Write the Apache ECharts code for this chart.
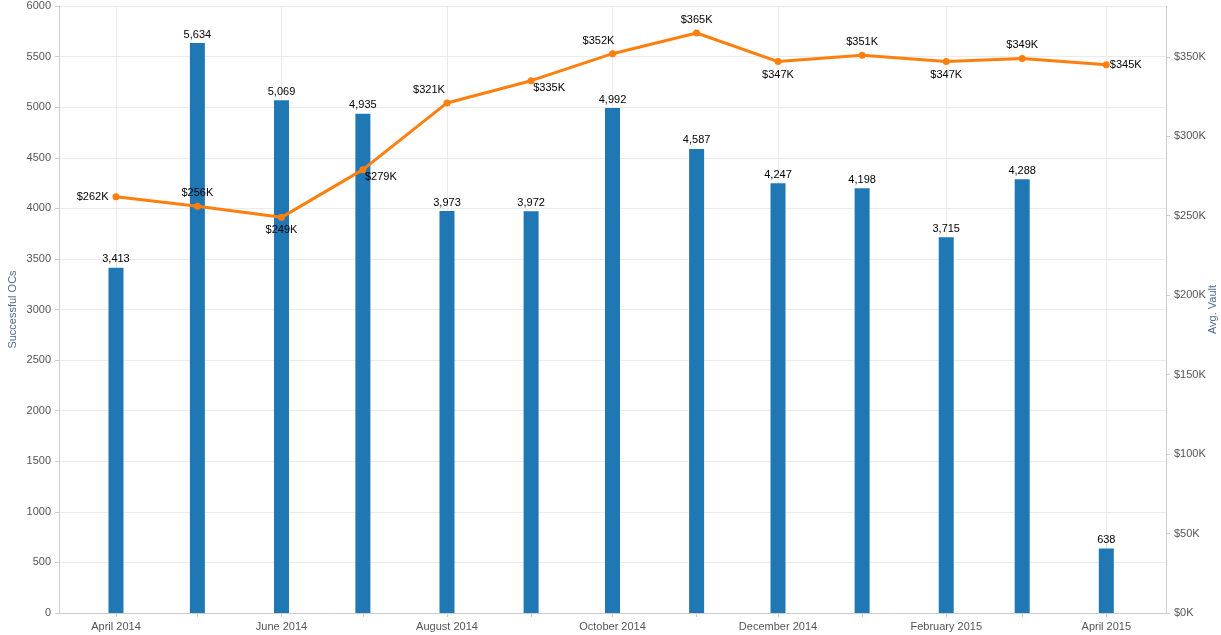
<!DOCTYPE html>
<html>
<head>
<meta charset="utf-8">
<script src="https://cdn.jsdelivr.net/npm/echarts@6/dist/echarts.min.js"></script>
<style>
  html, body { margin: 0; padding: 0; background: #fff; }
  #chart { width: 1221px; height: 635px; }
</style>
</head>
<body>
<div id="chart"></div>
<script>
// months shown, from April 2014 to April 2015 (year, month index)
var months = [
  [2014, 3], [2014, 4], [2014, 5], [2014, 6], [2014, 7], [2014, 8], [2014, 9],
  [2014, 10], [2014, 11], [2015, 0], [2015, 1], [2015, 2], [2015, 3]
];
var successfulOCs = [3413, 5634, 5069, 4935, 3973, 3972, 4992, 4587, 4247, 4198, 3715, 4288, 638];
// average vault, in thousands of dollars
var avgVault = [262, 256, 249, 279, 321, 335, 352, 365, 347, 351, 347, 349, 345];
var leftTicks = [0, 6000, 500];
var rightTicks = [0, 382, 50];
var monthNames = ['January', 'February', 'March', 'April', 'May', 'June', 'July',
  'August', 'September', 'October', 'November', 'December'];

var myChart = echarts.init(document.getElementById('chart'));

var DAY = 86400000;
var times = months.map(function(m) { return Date.UTC(m[0], m[1], 1); });
var labelTimes = times.filter(function(t, i) { return i % 2 === 0; });
var xMin = times[0] - 21 * DAY;
var xMax = times[times.length - 1] + 22 * DAY;

// where each line label sits, like the tableau layout
var linePos = ['left', 'top', 'bottom', 'bottom', 'top', 'bottom', 'top', 'top', 'bottom', 'top', 'bottom', 'top', 'right'];
var lineOffset = [[0, 0], [0, 0], [0, 0], [18, -6], [-18, 0], [18, -6], [-14, 0], [0, 0], [0, 0], [0, 0], [0, 0], [0, 0], [-4, 0]];

var font = 'Arial, "Liberation Sans", sans-serif';

option = {
  animation: false,
  grid: { left: 59, right: 55, top: 6, bottom: 22, outerBoundsMode: 'none', containLabel: false },
  xAxis: [
    {
      type: 'value',
      min: xMin, max: xMax,
      axisLine: { lineStyle: { color: '#ccc' } },
      axisTick: { show: true, length: 4, customValues: times, lineStyle: { color: '#ccc' } },
      axisLabel: {
        customValues: labelTimes,
        color: '#555', fontSize: 11, fontFamily: font,
        margin: 8,
        formatter: function(v) {
          var d = new Date(v);
          return monthNames[d.getUTCMonth()] + ' ' + d.getUTCFullYear();
        }
      },
      splitLine: { show: false }
    },
    {
      // only carries the vertical grid lines at labelled months
      type: 'value',
      position: 'bottom',
      min: xMin, max: xMax,
      axisLine: { show: false },
      axisTick: { show: false, customValues: labelTimes },
      axisLabel: { show: false, customValues: labelTimes },
      splitLine: { show: true, lineStyle: { color: '#ebebeb' } }
    }
  ],
  yAxis: [
    {
      type: 'value',
      min: leftTicks[0], max: leftTicks[1], interval: leftTicks[2],
      name: 'Successful OCs',
      nameLocation: 'middle',
      nameGap: 41,
      nameMoveOverlap: false,
      nameTextStyle: { color: '#4e6a8c', fontSize: 11, fontFamily: font },
      axisLine: { show: true, lineStyle: { color: '#ccc' } },
      axisTick: { show: true, length: 4, lineStyle: { color: '#ccc' } },
      axisLabel: {
        color: '#555', fontSize: 11, fontFamily: font,
        formatter: function(v) { return String(v); }
      },
      splitLine: { lineStyle: { color: '#ebebeb' } }
    },
    {
      type: 'value',
      min: rightTicks[0], max: rightTicks[1], interval: rightTicks[2],
      name: 'Avg. Vault',
      nameLocation: 'middle',
      nameGap: 41,
      nameMoveOverlap: false,
      nameTextStyle: { color: '#4e6a8c', fontSize: 11, fontFamily: font },
      axisLine: { show: true, lineStyle: { color: '#ccc' } },
      axisTick: { show: true, length: 4, lineStyle: { color: '#ccc' } },
      axisLabel: {
        color: '#555', fontSize: 11, fontFamily: font,
        showMaxLabel: false,
        formatter: function(v) { return '$' + v + 'K'; }
      },
      splitLine: { show: false }
    }
  ],
  series: [
    {
      name: 'Successful OCs',
      type: 'bar',
      yAxisIndex: 0,
      barWidth: 15,
      itemStyle: { color: '#1f77b4' },
      label: {
        show: true, position: 'top', distance: 3,
        color: '#000', fontSize: 11, fontFamily: font,
        formatter: function(p) { return p.value[1].toLocaleString('en-US'); }
      },
      data: times.map(function(t, i) { return [t, successfulOCs[i]]; })
    },
    {
      name: 'Avg. Vault',
      type: 'line',
      yAxisIndex: 1,
      symbol: 'circle',
      symbolSize: 7,
      lineStyle: { color: '#ff7f0e', width: 3 },
      itemStyle: { color: '#ff7f0e' },
      z: 5,
      data: times.map(function(t, i) {
        return {
          value: [t, avgVault[i]],
          label: { position: linePos[i], offset: lineOffset[i] }
        };
      }),
      label: {
        show: true, distance: 4,
        color: '#000', fontSize: 11, fontFamily: font,
        formatter: function(p) { return '$' + p.value[1] + 'K'; }
      }
    }
  ]
};
myChart.setOption(option);
</script>
</body>
</html>
